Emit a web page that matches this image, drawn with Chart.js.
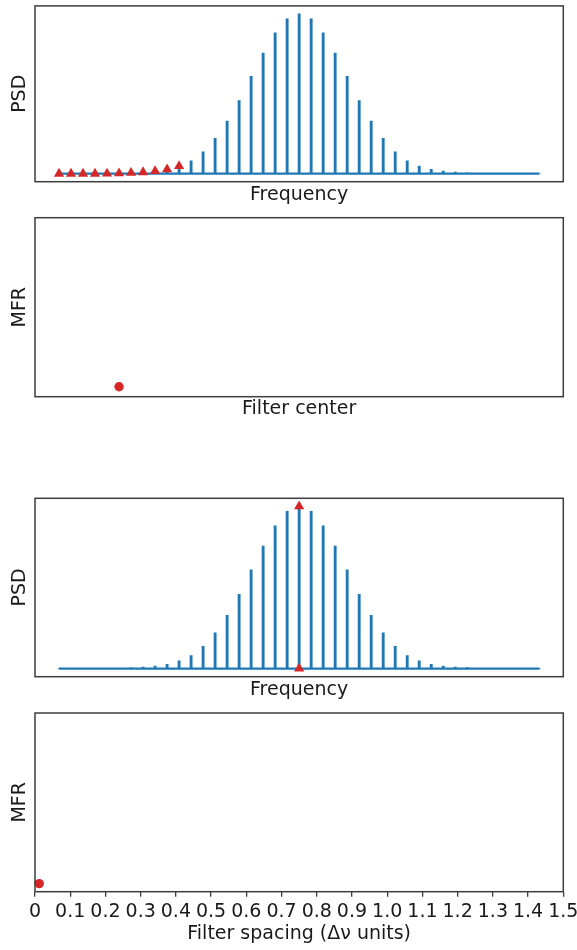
<!DOCTYPE html>
<html>
<head>
<meta charset="utf-8">
<script src="https://cdn.jsdelivr.net/npm/chart.js@4.4.1/dist/chart.umd.min.js"></script>
<style>
  html, body { margin: 0; padding: 0; background: #fff; }
  body { width: 577px; height: 950px; position: relative; overflow: hidden; }
  canvas { position: absolute; left: 0; }
</style>
</head>
<body>
<canvas id="psdTop" width="577" height="210" style="top:0px"></canvas>
<canvas id="mfrCenter" width="577" height="220" style="top:210px"></canvas>
<canvas id="psdBottom" width="577" height="215" style="top:490px"></canvas>
<canvas id="mfrSpacing" width="577" height="245" style="top:705px"></canvas>
<script>
// PSD per frequency bin (normalised to the peak), bins 0..40
const psd = [
    0, 0, 0, 0, 0.001, 0.002, 0.005, 0.009, 0.016, 0.027,
    0.048, 0.080, 0.137, 0.221, 0.329, 0.458, 0.609, 0.755, 0.881, 0.969,
    1.0,
    0.969, 0.881, 0.755, 0.609, 0.458, 0.329, 0.221, 0.137, 0.080, 0.048,
    0.027, 0.016, 0.010, 0.006, 0.002, 0.001, 0, 0, 0, 0
];

// bins covered by the filter in the top panel, and its centre / MFR
const filterBins = [0, 1, 2, 3, 4, 5, 6, 7, 8, 9, 10];
const filterCenter = [5];
const filterMfr = [0.011];

// second case: both filter edges sit on the peak bin
const edgeBins = [20, 20];
const edgeLevels = [1.0, 0];

// MFR against filter spacing
const spacing = [0.012];
const spacingMfr = [0];
const spacingTicks = [0, 0.1, 0.2, 0.3, 0.4, 0.5, 0.6, 0.7, 0.8, 0.9, 1.0, 1.1, 1.2, 1.3, 1.4, 1.5];
const spacingTickLabels = ['0', '0.1', '0.2', '0.3', '0.4', '0.5', '0.6', '0.7', '0.8', '0.9', '1.0', '1.1', '1.2', '1.3', '1.4', '1.5'];

const BLUE = '#1f77b4';
const RED = '#d62728';
const INK = '#1a1a1a';

Chart.defaults.font.family = "'DejaVu Sans', sans-serif";
Chart.defaults.font.size = 19;
Chart.defaults.color = INK;
Chart.defaults.animation = false;
Chart.defaults.plugins.legend.display = false;
Chart.defaults.plugins.tooltip.enabled = false;

// box around each plot area
const frame = {
    id: 'frame',
    afterDatasetsDraw(chart) {
        const { ctx, chartArea: a } = chart;
        ctx.save();
        ctx.strokeStyle = '#3c3c3c';
        ctx.lineWidth = 1.5;
        ctx.strokeRect(a.left, a.top, a.right - a.left, a.bottom - a.top);
        ctx.restore();
    }
};

function yAxis(title) {
    return {
        min: -0.05,
        max: 1.05,
        ticks: { display: false },
        grid: { display: false },
        border: { display: false },
        title: { display: true, text: title, padding: { top: 9.1, bottom: 0 } },
        afterFit(s) { s.width = 35; }
    };
}

function binAxis(title, height, pad) {
    return {
        type: 'linear',
        min: -2,
        max: psd.length + 1,
        offset: false,
        ticks: { display: false },
        grid: { display: false },
        border: { display: false },
        title: { display: true, text: title, padding: { top: 0, bottom: pad } },
        afterFit(s) { s.height = height; s.paddingLeft = 0; s.paddingRight = 0; }
    };
}

function stemSets() {
    return [
        {
            type: 'bar',
            data: psd.map((v, i) => ({ x: i, y: v })),
            backgroundColor: BLUE,
            barThickness: 2.2
        },
        {
            type: 'line',
            data: [{ x: 0, y: 0 }, { x: psd.length - 1, y: 0 }],
            borderColor: BLUE,
            borderWidth: 2.3,
            pointRadius: 0
        }
    ];
}

function markers(points, style, radius) {
    return {
        type: 'scatter',
        data: points,
        pointStyle: style,
        pointRadius: radius,
        backgroundColor: RED,
        borderWidth: 0,
        clip: false
    };
}

// top PSD with the filter bins marked
new Chart(document.getElementById('psdTop'), {
    type: 'bar',
    data: {
        datasets: [
            markers(filterBins.map(b => ({ x: b, y: psd[b] })), 'triangle', 5.9),
            ...stemSets()
        ]
    },
    options: {
        responsive: false,
        layout: { padding: { top: 2.7, right: 13.7, left: 0, bottom: 0 } },
        scales: { x: binAxis('Frequency', 28.3, 3.3), y: yAxis('PSD') }
    },
    plugins: [frame]
});

// MFR at the filter centre
new Chart(document.getElementById('mfrCenter'), {
    type: 'scatter',
    data: {
        datasets: [markers(filterCenter.map((c, i) => ({ x: c, y: filterMfr[i] })), 'circle', 4.7)]
    },
    options: {
        responsive: false,
        layout: { padding: { top: 7.7, right: 13.7, left: 0, bottom: 0 } },
        scales: { x: binAxis('Filter center', 33.3, 9.1), y: yAxis('MFR') }
    },
    plugins: [frame]
});

// second PSD with the filter edges on the peak
new Chart(document.getElementById('psdBottom'), {
    type: 'bar',
    data: {
        datasets: [
            markers(edgeBins.map((b, i) => ({ x: b, y: edgeLevels[i] })), 'triangle', 5.9),
            ...stemSets()
        ]
    },
    options: {
        responsive: false,
        layout: { padding: { top: 8.3, right: 13.7, left: 0, bottom: 0 } },
        scales: { x: binAxis('Frequency', 28.3, 3.3), y: yAxis('PSD') }
    },
    plugins: [frame]
});

// MFR against filter spacing
new Chart(document.getElementById('mfrSpacing'), {
    type: 'scatter',
    data: {
        datasets: [markers(spacing.map((s, i) => ({ x: s, y: spacingMfr[i] })), 'circle', 4.7)]
    },
    options: {
        responsive: false,
        layout: { padding: { top: 8, right: 13.7, left: 0, bottom: 0 } },
        scales: {
            x: {
                type: 'linear',
                min: 0,
                max: 1.5,
                afterBuildTicks(s) { s.ticks = spacingTicks.map(v => ({ value: v })); },
                ticks: {
                    padding: 4,
                    autoSkip: false,
                    maxRotation: 0,
                    callback: (v, i) => spacingTickLabels[i]
                },
                grid: {
                    display: true,
                    drawOnChartArea: false,
                    drawTicks: true,
                    tickLength: 5,
                    color: '#3c3c3c',
                    lineWidth: 1.3
                },
                border: { display: false },
                title: { display: true, text: 'Filter spacing (Δν units)', padding: { top: 0, bottom: 4.8 } },
                afterFit(s) { s.height = 58.3; s.paddingLeft = 0; s.paddingRight = 0; }
            },
            y: yAxis('MFR')
        }
    },
    plugins: [frame]
});
</script>
</body>
</html>
